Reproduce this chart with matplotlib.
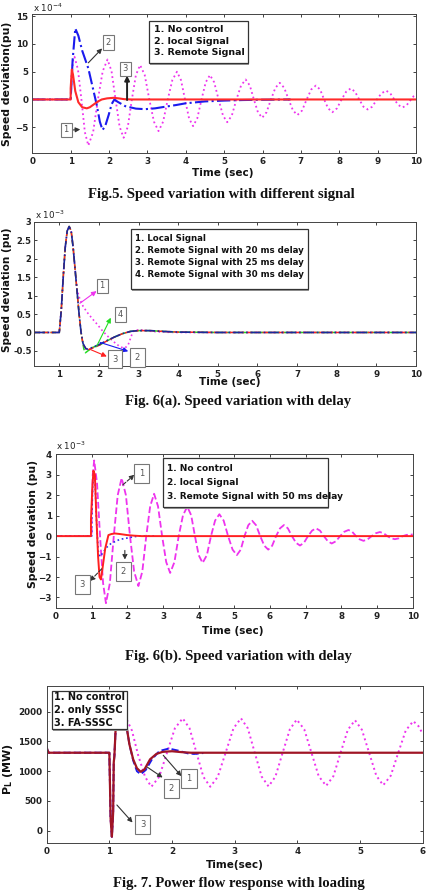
import matplotlib
matplotlib.use('Agg')
import matplotlib.pyplot as plt
from matplotlib.patches import Rectangle

W, H = 427, 896

# ---------------- Fig.5 data (x 1e-4) ----------------
f5_t_nc = [0, 1.0, 1.03, 1.06, 1.10, 1.19, 1.28, 1.37, 1.46, 1.585, 1.71, 1.835, 1.96,
           2.065, 2.17, 2.275, 2.38, 2.49, 2.595, 2.70, 2.81, 2.93, 3.05, 3.17, 3.29,
           3.41, 3.53, 3.65, 3.77, 3.875, 3.98, 4.085, 4.19, 4.30, 4.41, 4.52, 4.63,
           4.74, 4.855, 4.97, 5.08, 5.20, 5.32, 5.44, 5.56, 5.67, 5.775, 5.88, 5.99,
           6.105, 6.22, 6.335, 6.45, 6.565, 6.68, 6.795, 6.91, 7.03, 7.15, 7.27, 7.39,
           7.50, 7.605, 7.71, 7.82, 7.94, 8.06, 8.18, 8.30, 8.41, 8.52, 8.63, 8.74,
           8.86, 8.98, 9.10, 9.22, 9.33, 9.435, 9.54, 9.65, 9.76, 9.87, 9.94, 10.0]
f5_nc = [0, 0, 4.0, 7.0, 7.7, 5.4, 0, -5.9, -8.3, -5.9, 0, 5.1, 7.2,
         5.1, 0, -4.9, -6.9, -4.9, 0, 4.4, 6.2, 4.4, 0, -4.0, -5.7,
         -4.0, 0, 3.5, 5.0, 3.5, 0, -3.4, -4.8, -3.4, 0, 3.1, 4.4,
         3.1, 0, -2.9, -4.1, -2.9, 0, 2.5, 3.6, 2.5, 0, -2.3, -3.3,
         -2.3, 0, 2.1, 3.0, 2.1, 0, -2.0, -2.8, -2.0, 0, 1.8, 2.5,
         1.8, 0, -1.6, -2.3, -1.6, 0, 1.4, 2.0, 1.4, 0, -1.3, -1.8,
         -1.3, 0, 1.1, 1.6, 1.1, 0, -1.0, -1.45, -1.0, 0, 0.6, 0.9]
f5_t_loc = [0, 1.0, 1.05, 1.12, 1.2, 1.3, 1.46, 1.58, 1.68, 1.76, 1.83, 1.9, 1.99, 2.07,
            2.14, 2.22, 2.42, 2.7, 2.94, 3.2, 3.47, 3.75, 3.99, 4.5, 5.0, 5.5, 6.0, 6.73]
f5_loc = [0, 0, 7.0, 12.8, 11.5, 8.8, 5.6, 2.0, -1.0, -4.0, -5.5, -4.8, -2.8, -0.8,
          0, -0.4, -1.2, -1.65, -1.75, -1.6, -1.3, -1.0, -0.7, -0.35, -0.2, -0.1, -0.05, 0]
f5_t_rem = [0, 1.0, 1.0, 1.03, 1.06, 1.12, 1.2, 1.3, 1.42, 1.5, 1.6, 1.7, 1.81, 1.95,
            2.12, 2.25, 2.4, 2.6, 10.0]
f5_rem = [0, 0, 2.0, 5.4, 4.5, 1.5, -0.5, -1.4, -1.6, -1.4, -0.9, -0.4, 0, 0.2,
          0.3, 0.2, 0.05, 0, 0]

# ---------------- Fig.6(a) data (x 1e-3) ----------------
f6a_t_common = [0.37, 1.0, 1.05, 1.1, 1.15, 1.2, 1.25, 1.3, 1.35, 1.4]
f6a_common = [0, 0, 0.6, 1.5, 2.3, 2.75, 2.87, 2.75, 2.3, 1.7]
f6a_t_local = [1.45, 1.52, 1.6, 1.7, 1.82, 1.95, 2.07, 2.2, 2.36, 2.5, 2.61, 2.68,
               2.74, 2.8, 2.86, 2.99, 3.15, 3.33, 3.6, 4.0, 10.0]
f6a_local = [1.15, 0.9, 0.71, 0.55, 0.39, 0.23, 0.07, -0.08, -0.24, -0.36, -0.42, -0.4,
             -0.33, -0.15, 0.03, 0.07, 0.06, 0.03, 0.01, 0, 0]
f6a_t_d20 = [1.45, 1.5, 1.55, 1.6, 1.67, 1.72, 1.85, 2.0, 2.2, 2.4, 2.6, 2.8, 3.0,
             3.3, 3.6, 4.0, 5.0, 10.0]
f6a_d20 = [1.1, 0.5, 0.0, -0.3, -0.44, -0.45, -0.4, -0.33, -0.22, -0.12, -0.03, 0.03,
           0.05, 0.05, 0.03, 0.01, 0, 0]
f6a_t_d25 = [1.45, 1.5, 1.55, 1.6, 1.7, 1.8, 2.0, 2.2, 2.4, 2.6, 2.8, 3.0, 3.3, 3.6,
             4.0, 5.0, 10.0]
f6a_d25 = [1.1, 0.5, 0.0, -0.32, -0.48, -0.44, -0.35, -0.23, -0.12, -0.03, 0.03, 0.05,
           0.05, 0.03, 0.01, 0, 0]
f6a_t_d30 = [1.45, 1.5, 1.55, 1.62, 1.66, 1.72, 1.85, 2.0, 2.2, 2.4, 2.6, 2.8, 3.0,
             3.3, 3.6, 4.0, 5.0, 10.0]
f6a_d30 = [1.1, 0.5, 0.0, -0.45, -0.55, -0.5, -0.4, -0.35, -0.23, -0.12, -0.03, 0.03,
           0.05, 0.05, 0.03, 0.01, 0, 0]

# ---------------- Fig.6(b) data (x 1e-3) ----------------
f6b_t_nc = [0, 1.0, 1.0, 1.03, 1.07, 1.15, 1.235, 1.32, 1.40, 1.51, 1.62, 1.73, 1.84,
            1.96, 2.075, 2.19, 2.31, 2.42, 2.53, 2.64, 2.75, 2.86, 2.975, 3.09, 3.20,
            3.32, 3.44, 3.56, 3.68, 3.79, 3.895, 4.0, 4.11, 4.23, 4.345, 4.46, 4.58,
            4.70, 4.825, 4.95, 5.07, 5.18, 5.285, 5.39, 5.50, 5.61, 5.725, 5.84, 5.95,
            6.06, 6.17, 6.28, 6.39, 6.50, 6.615, 6.73, 6.84, 6.95, 7.065, 7.18, 7.29,
            7.40, 7.51, 7.62, 7.73, 7.85, 7.965, 8.08, 8.20, 8.305, 8.41, 8.515, 8.62,
            8.735, 8.85, 8.965, 9.08, 9.185, 9.29, 9.395, 9.50, 9.61, 9.72, 9.83, 10.0]
f6b_nc = [0, 0, 0.8, 3.0, 3.7, 2.6, 0, -2.3, -3.28, -2.3, 0, 2.0, 2.84,
          2.0, 0, -1.73, -2.44, -1.73, 0, 1.46, 2.07, 1.46, 0, -1.27, -1.8,
          -1.27, 0, 1.02, 1.44, 1.02, 0, -0.93, -1.31, -0.93, 0, 0.76, 1.07,
          0.76, 0, -0.66, -0.93, -0.66, 0, 0.53, 0.75, 0.53, 0, -0.47, -0.66,
          -0.47, 0, 0.38, 0.54, 0.38, 0, -0.33, -0.46, -0.33, 0, 0.27, 0.38,
          0.27, 0, -0.25, -0.36, -0.25, 0, 0.21, 0.30, 0.21, 0, -0.16, -0.23,
          -0.16, 0, 0.14, 0.20, 0.14, 0, -0.11, -0.15, -0.11, 0, 0.06, 0.08]
f6b_t_loc = [0, 1.0, 1.0, 1.03, 1.06, 1.09, 1.13, 1.18, 1.23, 1.3, 1.42, 1.55, 1.79,
             1.98, 2.15, 2.3, 2.8]
f6b_loc = [0, 0, 0.8, 2.5, 3.2, 2.9, 1.0, -0.7, -1.0, -0.85, -0.55, -0.35, -0.16,
           -0.1, -0.04, 0, 0]
f6b_t_rem = [0, 0.98, 0.98, 1.02, 1.05, 1.09, 1.13, 1.18, 1.22, 1.26, 1.31, 1.38,
             1.47, 1.55, 1.65, 1.8, 2.0, 2.2, 2.4, 10.0]
f6b_rem = [0, 0, 0.8, 2.4, 3.2, 3.0, 1.0, -1.0, -2.0, -2.12, -1.5, -0.6,
           0.05, 0.1, 0.13, 0.1, 0.05, 0.02, 0, 0]

# ---------------- Fig.7 data (MW) ----------------
f7_t_common = [0, 0.01, 0.03, 1.0, 1.02, 1.04, 1.06, 1.07, 1.08, 1.10, 1.28]
f7_common = [1400, 1360, 1310, 1310, 200, -100, 300, 1150, 1250, 1710, 1710]
f7_t_nc = [1.10, 1.18, 1.24, 1.36, 1.46, 1.57, 1.67, 1.795, 1.92, 2.045, 2.17, 2.28,
           2.39, 2.50, 2.61, 2.73, 2.855, 2.98, 3.10, 3.21, 3.32, 3.43, 3.54, 3.65,
           3.765, 3.88, 3.99, 4.11, 4.225, 4.34, 4.46, 4.575, 4.69, 4.805, 4.92, 5.03,
           5.145, 5.26, 5.37, 5.49, 5.61, 5.73, 5.85, 5.93, 6.0]
f7_nc = [1710, 1900, 1950, 1683, 1267, 905, 739, 906, 1310, 1719, 1888, 1719,
         1310, 906, 739, 906, 1310, 1719, 1888, 1719, 1310, 910, 745, 910,
         1310, 1703, 1866, 1703, 1310, 917, 755, 917, 1310, 1695, 1855, 1695,
         1310, 924, 765, 924, 1310, 1685, 1840, 1760, 1628]
f7_t_sssc = [1.28, 1.32, 1.38, 1.44, 1.5, 1.58, 1.68, 1.8, 1.95, 2.1, 2.25, 2.35, 2.5]
f7_sssc = [1710, 1450, 1180, 1000, 950, 1020, 1200, 1340, 1380, 1345, 1300, 1290, 1305]
f7_t_fa = [1.28, 1.32, 1.38, 1.44, 1.5, 1.56, 1.65, 1.75, 1.85, 2.0, 2.15, 2.3, 6.0]
f7_fa = [1710, 1450, 1200, 1050, 990, 1030, 1200, 1290, 1325, 1335, 1320, 1310, 1310]


fig = plt.figure(figsize=(W / 100, H / 100), dpi=100)
fig.patch.set_facecolor('white')


def add_ax(x0, y0, x1, y1):
    ax = fig.add_axes([x0 / W, 1 - y1 / H, (x1 - x0) / W, (y1 - y0) / H])
    ax.tick_params(direction='in', length=2.5, width=0.6, top=True, right=True,
                   labelsize=6.3, colors='#222', pad=3)
    for s in ax.spines.values():
        s.set_linewidth(0.7)
        s.set_color('#444')
    return ax


def bold_ticks(ax):
    for lab in ax.get_xticklabels() + ax.get_yticklabels():
        lab.set_fontweight('bold')


def ftext(x, y, s, **kw):
    fig.text(x / W, 1 - y / H, s, **kw)


def legend_box(x0, y0, x1, y1, lines, ys, xt, size):
    fig.patches.append(Rectangle((x0 / W + 0.003, 1 - y1 / H - 0.002), (x1 - x0) / W, (y1 - y0) / H,
                                 transform=fig.transFigure, fc='#999', ec='none', zorder=4))
    fig.patches.append(Rectangle((x0 / W, 1 - y1 / H), (x1 - x0) / W, (y1 - y0) / H,
                                 transform=fig.transFigure, fc='white', ec='#333', lw=0.9, zorder=5))
    for s, y in zip(lines, ys):
        fig.text(xt / W, 1 - y / H, s, fontsize=size, fontweight='bold', va='center',
                 color='#111', zorder=6)


def tag(ax, x, y, s, size=6, pad=0.35):
    ax.text(x, y, s, fontsize=size, color='#555', ha='center', va='center', zorder=7,
            bbox=dict(boxstyle='square,pad=%s' % pad, fc='white', ec='#777', lw=0.8))


def arrow(ax, tail, head, color='#333', ls='-', lw=0.8):
    ax.annotate('', xy=head, xytext=tail, zorder=6,
                arrowprops=dict(arrowstyle='-|>', color=color, lw=lw, linestyle=ls,
                                mutation_scale=7, shrinkA=0, shrinkB=0))


caption = dict(fontsize=10.5, fontweight='bold', family='Liberation Serif', ha='center',
               va='center', color='#111')
label_kw = dict(fontweight='bold', color='#111', ha='center', va='center')

# ---------- Fig.5 ----------
ax1 = add_ax(32.3, 14, 416, 153.3)
ax1.plot(f5_t_nc, f5_nc, color='#ee33ee', ls=':', lw=1.3)
ax1.plot(f5_t_loc, f5_loc, color='#1a1aee', ls='-.', lw=1.5)
ax1.plot(f5_t_rem, f5_rem, color='#ff2a2a', ls='-', lw=1.5)
ax1.set_xlim(0, 10)
ax1.set_ylim(-9.7, 15.4)
ax1.set_xticks(range(0, 11))
ax1.set_yticks([-5, 0, 5, 10, 15])
bold_ticks(ax1)
tag(ax1, 0.88, -5.5, '1')
arrow(ax1, (1.05, -5.5), (1.25, -5.4))
tag(ax1, 1.98, 10.2, '2')
arrow(ax1, (1.46, 6.6), (1.82, 9.2))
tag(ax1, 2.42, 5.5, '3')
arrow(ax1, (2.47, -0.1), (2.47, 4.3), color='#222', lw=1.4)
ftext(33, 8, r'x 10$^{-4}$', fontsize=6.3, color='#222', va='center')
ftext(7, 84, 'Speed deviation(pu)', fontsize=7.8, rotation=90, **label_kw)
ftext(223, 173, 'Time (sec)', fontsize=7.5, **label_kw)
legend_box(149, 21, 248, 63, ['1. No control', '2. local Signal', '3. Remote Signal'],
           [29.5, 41, 52.5], 154, 6.8)
ftext(221, 194, 'Fig.5. Speed variation with different signal', **caption)

# ---------- Fig.6(a) ----------
ax2 = add_ax(34.3, 221.7, 416, 365.7)
ax2.plot(f6a_t_common + f6a_t_local, f6a_common + f6a_local, color='#ee33ee', ls=':', lw=1.2)
ax2.plot(f6a_t_common + f6a_t_d30, f6a_common + f6a_d30, color='#22dd22', ls='--', lw=1.1)
ax2.plot(f6a_t_common + f6a_t_d25, f6a_common + f6a_d25, color='#ff2020', ls='--', lw=1.1)
ax2.plot(f6a_t_common + f6a_t_d20, f6a_common + f6a_d20, color='#1a2a9a', ls='-.', lw=1.2)
ax2.set_xlim(0.37, 10)
ax2.set_ylim(-0.9, 3.0)
ax2.set_xticks(range(1, 11))
ax2.set_yticks([-0.5, 0, 0.5, 1, 1.5, 2, 2.5, 3])
ax2.set_yticklabels(['-0.5', '0', '0.5', '1', '1.5', '2', '2.5', '3'])
ax2.tick_params(axis='y', labelsize=6.0, pad=2)
bold_ticks(ax2)
tag(ax2, 2.08, 1.26, '1')
arrow(ax2, (1.52, 0.79), (1.94, 1.12), color='#ee33ee')
tag(ax2, 2.55, 0.48, '4')
arrow(ax2, (1.94, -0.38), (2.3, 0.4), color='#22dd22')
tag(ax2, 2.4, -0.72, '3', pad=0.5)
arrow(ax2, (1.76, -0.45), (2.2, -0.65), color='#ff2020')
tag(ax2, 2.97, -0.67, '2', pad=0.6)
arrow(ax2, (2.03, -0.27), (2.74, -0.51), color='#1a1aee')
ftext(35, 215, r'x 10$^{-3}$', fontsize=6.3, color='#222', va='center')
ftext(7, 290, 'Speed deviation (pu)', fontsize=7.6, rotation=90, **label_kw)
ftext(230, 382, 'Time (sec)', fontsize=7.5, **label_kw)
legend_box(131, 229, 308, 289, ['1. Local Signal', '2. Remote Signal with 20 ms delay',
                                '3. Remote Signal with 25 ms delay',
                                '4. Remote Signal with 30 ms delay'],
           [238.5, 250.5, 262.5, 274.5], 135, 6.2)
ftext(238, 401, 'Fig. 6(a). Speed variation with delay', **caption)

# ---------- Fig.6(b) ----------
ax3 = add_ax(56, 454.3, 412.7, 607.7)
ax3.plot(f6b_t_nc, f6b_nc, color='#ee33ee', ls='--', lw=1.3)
ax3.plot(f6b_t_loc, f6b_loc, color='#2a2aee', ls=':', lw=1.2)
ax3.plot(f6b_t_rem, f6b_rem, color='#ff2020', ls='-', lw=1.4)
ax3.set_xlim(0, 10)
ax3.set_ylim(-3.5, 4)
ax3.set_xticks(range(0, 11))
ax3.set_yticks(range(-3, 5))
bold_ticks(ax3)
tag(ax3, 2.4, 3.08, '1', pad=0.6)
arrow(ax3, (1.87, 2.5), (2.2, 3.0), ls='--')
tag(ax3, 1.89, -1.75, '2', pad=0.6)
arrow(ax3, (1.93, -0.7), (1.93, -1.15), ls='--')
tag(ax3, 0.74, -2.36, '3', pad=0.6)
arrow(ax3, (1.28, -1.6), (0.95, -2.2), ls='--')
ftext(56, 446, r'x 10$^{-3}$', fontsize=6.3, color='#222', va='center')
ftext(33, 524, 'Speed deviation (pu)', fontsize=7.8, rotation=90, **label_kw)
ftext(233, 631, 'Time (sec)', fontsize=7.5, **label_kw)
legend_box(163, 458.3, 328, 507.3, ['1. No control', '2. local Signal',
                                    '3. Remote Signal with 50 ms delay'],
           [468.5, 482, 496], 167, 6.5)
ftext(238, 656, 'Fig. 6(b). Speed variation with delay', **caption)

# ---------- Fig.7 ----------
ax4 = add_ax(46.7, 686, 422.7, 842.7)
ax4.plot(f7_t_common + f7_t_nc, f7_common + f7_nc, color='#ee33ee', ls=':', lw=1.4)
ax4.plot(f7_t_common + f7_t_sssc, f7_common + f7_sssc, color='#1a1aee', ls='--', lw=1.4)
ax4.plot(f7_t_common + f7_t_fa, f7_common + f7_fa, color='#a01525', ls='-', lw=1.6)
ax4.set_xlim(0, 6)
ax4.set_ylim(-200, 2430)
ax4.set_xticks(range(0, 7))
ax4.set_yticks([0, 500, 1000, 1500, 2000])
bold_ticks(ax4)
tag(ax4, 2.27, 878, '1', pad=0.6)
arrow(ax4, (1.86, 1267), (2.15, 917))
tag(ax4, 1.99, 711, '2', pad=0.6)
arrow(ax4, (1.6, 1072), (1.85, 894))
tag(ax4, 1.53, 100, '3', pad=0.6)
arrow(ax4, (1.12, 433), (1.37, 139))
ftext(8, 769, r'P$_\mathbf{L}$ (MW)', fontsize=8, rotation=90, **label_kw)
ftext(235, 865, 'Time(sec)', fontsize=7.5, **label_kw)
legend_box(52, 690.7, 127, 729.3, ['1. No control', '2. only SSSC', '3. FA-SSSC'],
           [697, 710, 723], 54, 7.0)
ftext(239, 883, 'Fig. 7. Power flow response with loading', **caption)

plt.savefig('out.png', dpi=100)
